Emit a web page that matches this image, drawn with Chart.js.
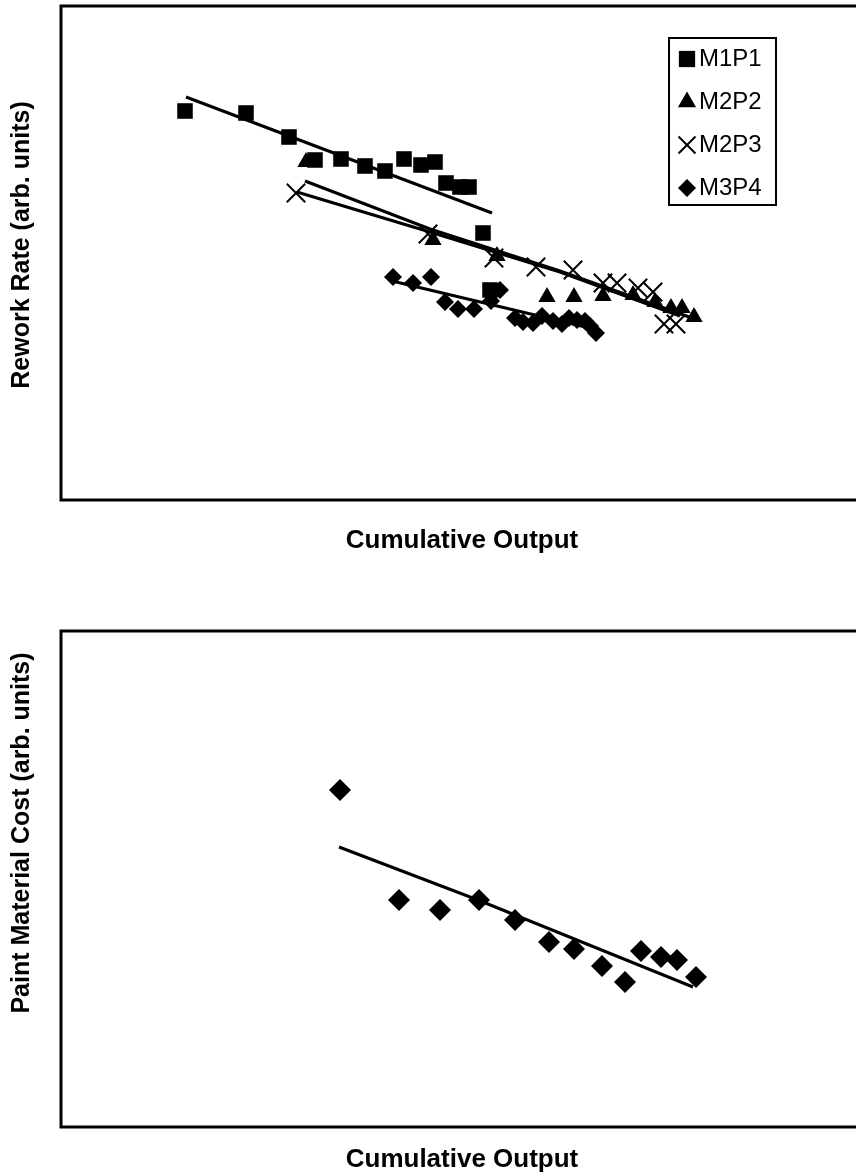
<!DOCTYPE html>
<html>
<head>
<meta charset="utf-8">
<script src="https://cdn.jsdelivr.net/npm/chart.js@4.4.1/dist/chart.umd.min.js"></script>
<style>
	html, body { margin: 0; padding: 0; background: #fff; }
	canvas { position: absolute; left: 0; }
	#rework { top: 0; }
	#paint { top: 600px; }
</style>
</head>
<body>
<canvas id="rework" width="856" height="600"></canvas>
<canvas id="paint" width="856" height="574"></canvas>
<script>
// Rework rate vs cumulative output (arb. units)
var m1p1X = [124, 185, 228, 254, 280, 304, 324, 343, 360, 374, 385, 399, 408, 422, 429];
var m1p1Y = [389, 387, 363, 340, 341, 334, 329, 341, 335, 338, 317, 313, 313, 267, 210];
var m1p1FitX = [125, 431];
var m1p1FitY = [403, 287];

var m2p2X = [245, 372, 436, 486, 513, 542, 572, 594, 610, 621, 633];
var m2p2Y = [338, 260, 244, 203, 203, 204, 205, 198, 192, 192, 183];
var m2p2FitX = [244, 369, 499, 631];
var m2p2FitY = [319, 271, 229, 182];

var m2p3X = [235, 367, 433, 475, 512, 542, 556, 577, 592, 603, 615];
var m2p3Y = [307, 266, 242, 233, 230, 217, 217, 212, 208, 176, 176];
var m2p3FitX = [236, 369, 499, 619];
var m2p3FitY = [308, 268, 228, 184];

var m3p4X = [332, 352, 370, 384, 397, 413, 430, 439, 454, 462, 472, 481, 492, 501, 508, 516, 524, 529, 535];
var m3p4Y = [223, 217, 223, 198, 191, 191, 199, 210, 182, 178, 177, 184, 179, 176, 182, 180, 179, 174, 167];
var m3p4FitX = [331, 537];
var m3p4FitY = [219, 170];

// Paint material cost vs cumulative output (arb. units)
var paintX = [279, 338, 379, 418, 454, 488, 513, 541, 564, 580, 600, 616, 635];
var paintY = [337, 227, 217, 227, 207, 185, 178, 161, 145, 176, 170, 167, 150];
var paintFitX = [278, 417, 632];
var paintFitY = [280, 227, 140];

var FONT = "'Liberation Sans', Arial, sans-serif";

function zip(xs, ys) {
	return xs.map(function(x, i) { return {x: x, y: ys[i]}; });
}

function markers(label, xs, ys, style, radius) {
	return {
		label: label,
		data: zip(xs, ys),
		showLine: false,
		pointStyle: style,
		pointRadius: radius,
		pointHoverRadius: radius,
		backgroundColor: '#000',
		borderColor: '#000',
		borderWidth: style === 'crossRot' ? 2 : 0
	};
}

function fitLine(xs, ys) {
	return {
		label: '',
		data: zip(xs, ys),
		showLine: true,
		pointRadius: 0,
		borderColor: '#000',
		borderWidth: 3,
		tension: 0
	};
}

// box round the plot; the right side runs off the page
var framePlugin = {
	id: 'frame',
	beforeDatasetsDraw: function(chart) {
		var a = chart.chartArea, ctx = chart.ctx;
		ctx.save();
		ctx.strokeStyle = '#000';
		ctx.lineWidth = 3;
		ctx.strokeRect(a.left, a.top, a.right - a.left + 20, a.bottom - a.top);
		ctx.restore();
	}
};

var labelsPlugin = {
	id: 'axisLabels',
	afterDraw: function(chart, args, opts) {
		var ctx = chart.ctx;
		(opts.items || []).forEach(function(it) {
			ctx.save();
			ctx.fillStyle = '#000';
			ctx.font = it.font;
			ctx.textAlign = 'center';
			ctx.textBaseline = 'middle';
			ctx.translate(it.x, it.y);
			if (it.rotate) ctx.rotate(-Math.PI / 2);
			ctx.fillText(it.text, 0, 0);
			ctx.restore();
		});
	}
};

var boxLegendPlugin = {
	id: 'boxLegend',
	afterDraw: function(chart, args, opts) {
		if (!opts.show) return;
		var ctx = chart.ctx;
		ctx.save();
		ctx.strokeStyle = '#000';
		ctx.lineWidth = 2;
		ctx.strokeRect(opts.x, opts.y, opts.w, opts.h);
		ctx.font = opts.font;
		ctx.textBaseline = 'middle';
		var row = 0;
		chart.data.datasets.forEach(function(ds) {
			if (!ds.label) return;
			var cy = opts.firstRow + row * opts.rowGap;
			ctx.fillStyle = '#000';
			ctx.strokeStyle = '#000';
			ctx.lineWidth = 2;
			Chart.helpers.drawPoint(ctx, {
				pointStyle: ds.pointStyle,
				radius: opts.radius[ds.pointStyle],
				rotation: 0,
				borderWidth: ds.pointStyle === 'crossRot' ? 2 : 0
			}, opts.symbolX, cy);
			ctx.fillStyle = '#000';
			ctx.fillText(ds.label, opts.textX, cy);
			row++;
		});
		ctx.restore();
	}
};

function baseOptions(pad, xMax, yMax) {
	return {
		responsive: false,
		animation: false,
		layout: { padding: pad, autoPadding: false },
		scales: {
			x: { type: 'linear', display: false, min: 0, max: xMax },
			y: { type: 'linear', display: false, min: 0, max: yMax }
		},
		plugins: {
			legend: { display: false },
			tooltip: { enabled: false }
		}
	};
}

var reworkOpts = baseOptions({left: 61, top: 6, right: 0, bottom: 100}, 795, 494);
reworkOpts.plugins.axisLabels = {
	items: [
		{text: 'Rework Rate (arb. units)', x: 22, y: 245, rotate: true, font: 'bold 25px ' + FONT},
		{text: 'Cumulative Output', x: 462, y: 541, font: 'bold 26px ' + FONT}
	]
};
reworkOpts.plugins.boxLegend = {
	show: true,
	x: 669, y: 38, w: 107, h: 167,
	symbolX: 687, textX: 699, firstRow: 59, rowGap: 43,
	font: '24px ' + FONT,
	radius: { rect: 11.5, triangle: 10.5, crossRot: 12, rectRot: 9 }
};

new Chart(document.getElementById('rework'), {
	type: 'scatter',
	data: {
		datasets: [
			fitLine(m1p1FitX, m1p1FitY),
			fitLine(m2p2FitX, m2p2FitY),
			fitLine(m2p3FitX, m2p3FitY),
			fitLine(m3p4FitX, m3p4FitY),
			markers('M1P1', m1p1X, m1p1Y, 'rect', 11),
			markers('M2P2', m2p2X, m2p2Y, 'triangle', 10),
			markers('M2P3', m2p3X, m2p3Y, 'crossRot', 13),
			markers('M3P4', m3p4X, m3p4Y, 'rectRot', 9)
		]
	},
	options: reworkOpts,
	plugins: [framePlugin, labelsPlugin, boxLegendPlugin]
});

var paintOpts = baseOptions({left: 61, top: 31, right: 0, bottom: 47}, 795, 496);
paintOpts.plugins.axisLabels = {
	items: [
		{text: 'Paint Material Cost (arb. units)', x: 22, y: 233, rotate: true, font: 'bold 25px ' + FONT},
		{text: 'Cumulative Output', x: 462, y: 560, font: 'bold 26px ' + FONT}
	]
};

new Chart(document.getElementById('paint'), {
	type: 'scatter',
	data: {
		datasets: [
			fitLine(paintFitX, paintFitY),
			markers('Paint', paintX, paintY, 'rectRot', 11)
		]
	},
	options: paintOpts,
	plugins: [framePlugin, labelsPlugin]
});
</script>
</body>
</html>
